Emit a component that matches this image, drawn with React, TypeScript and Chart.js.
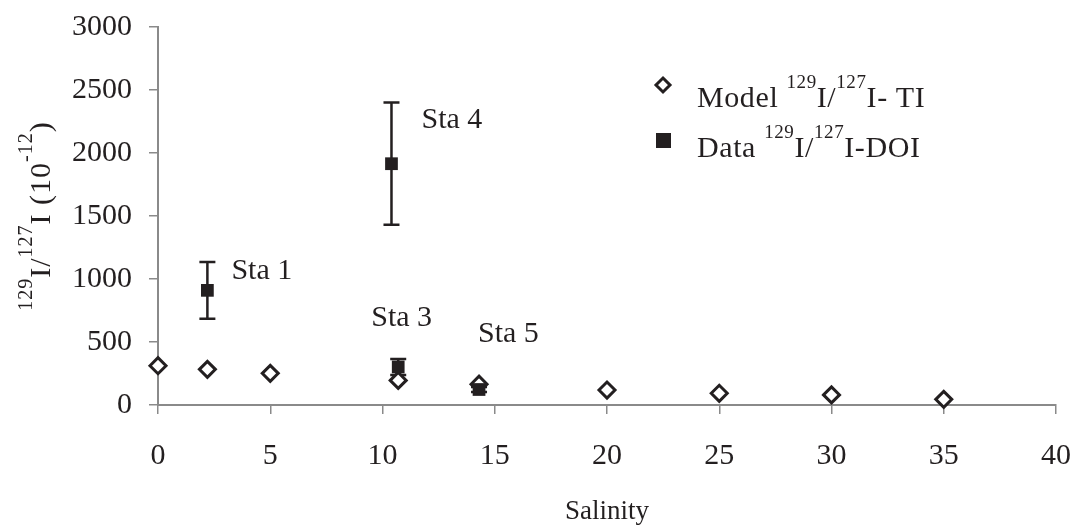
import React, { useEffect, useRef } from 'react';
import { Chart, registerables } from 'chart.js';

Chart.register(...registerables);

// ---- data ----
const modelSalinity = [0, 2.2, 5, 10.7, 14.3, 20, 25, 30, 35];
const modelRatio = [312, 283, 251, 195, 165, 119, 93, 80, 45];

const dataSalinity = [2.2, 10.4, 10.7, 14.3];
const dataRatio = [910, 1915, 302, 123];
const dataError = [225, 485, 63, 20];
const stationNames = ['Sta 1', 'Sta 4', 'Sta 3', 'Sta 5'];

const xTickValues = [0, 5, 10, 15, 20, 25, 30, 35, 40];
const yTickValues = [0, 500, 1000, 1500, 2000, 2500, 3000];

const xTitle = 'Salinity';
const yTitleParts = [
  { t: '129', sup: true },
  { t: 'I/' },
  { t: '127', sup: true },
  { t: 'I (10' },
  { t: '-12', sup: true },
  { t: ')' },
];
const legendModelParts = [
  { t: 'Model ' },
  { t: '129', sup: true },
  { t: 'I/' },
  { t: '127', sup: true },
  { t: 'I- TI' },
];
const legendDataParts = [
  { t: 'Data ' },
  { t: '129', sup: true },
  { t: 'I/' },
  { t: '127', sup: true },
  { t: 'I-DOI' },
];

// ---- styles ----
const FONT = '"Liberation Serif", "Times New Roman", serif';
const INK = '#231f20';
const AXIS = '#8a8a8a';
// pixel offsets of station labels from their data point
const labelOffsets = [
  [24, -11],
  [30, -36],
  [-27, -41],
  [-1, -48],
];

type Part = { t: string; sup?: boolean };

function richWidth(ctx: CanvasRenderingContext2D, parts: Part[], main: number, sup: number) {
  let w = 0;
  for (const p of parts) {
    ctx.font = `${p.sup ? sup : main}px ${FONT}`;
    w += ctx.measureText(p.t).width;
  }
  return w;
}

function drawRich(
  ctx: CanvasRenderingContext2D,
  parts: Part[],
  x: number,
  y: number,
  main: number,
  sup: number,
  raise: number
) {
  let cx = x;
  ctx.textBaseline = 'alphabetic';
  ctx.textAlign = 'left';
  for (const p of parts) {
    ctx.font = `${p.sup ? sup : main}px ${FONT}`;
    ctx.fillText(p.t, cx, p.sup ? y - raise : y);
    cx += ctx.measureText(p.t).width;
  }
}

const errorBarPlugin = {
  id: 'errorBars',
  beforeDatasetsDraw(chart: any) {
    const { ctx, scales } = chart;
    const xs = scales.x;
    const ys = scales.y;
    ctx.save();
    ctx.strokeStyle = INK;
    ctx.lineWidth = 2.5;
    for (let i = 0; i < dataSalinity.length; i++) {
      const px = xs.getPixelForValue(dataSalinity[i]);
      const top = ys.getPixelForValue(dataRatio[i] + dataError[i]);
      const bot = ys.getPixelForValue(dataRatio[i] - dataError[i]);
      ctx.beginPath();
      ctx.moveTo(px, top);
      ctx.lineTo(px, bot);
      ctx.moveTo(px - 8, top);
      ctx.lineTo(px + 8, top);
      ctx.moveTo(px - 8, bot);
      ctx.lineTo(px + 8, bot);
      ctx.stroke();
    }
    ctx.restore();
  },
};

const labelsPlugin = {
  id: 'stationLabels',
  afterDraw(chart: any) {
    const { ctx, scales } = chart;
    const xs = scales.x;
    const ys = scales.y;
    ctx.save();
    ctx.fillStyle = INK;
    ctx.font = `30px ${FONT}`;
    ctx.textAlign = 'left';
    ctx.textBaseline = 'alphabetic';
    for (let i = 0; i < stationNames.length; i++) {
      const px = xs.getPixelForValue(dataSalinity[i]);
      const py = ys.getPixelForValue(dataRatio[i]);
      ctx.fillText(stationNames[i], px + labelOffsets[i][0], py + labelOffsets[i][1]);
    }

    // y axis title (rotated, with superscripts)
    const area = chart.chartArea;
    const cy = (area.top + area.bottom) / 2;
    (ctx as any).letterSpacing = '1px';
    const w = richWidth(ctx, yTitleParts, 30, 20);
    ctx.save();
    ctx.translate(50, cy + w / 2);
    ctx.rotate(-Math.PI / 2);
    drawRich(ctx, yTitleParts, 0, 0, 30, 20, 18);
    ctx.restore();

    // legend
    (ctx as any).letterSpacing = '0.6px';
    ctx.strokeStyle = INK;
    ctx.lineWidth = 3;
    ctx.fillStyle = '#ffffff';
    const dx = 663, dy = 85, r = 7;
    ctx.beginPath();
    ctx.moveTo(dx, dy - r);
    ctx.lineTo(dx + r, dy);
    ctx.lineTo(dx, dy + r);
    ctx.lineTo(dx - r, dy);
    ctx.closePath();
    ctx.fill();
    ctx.stroke();
    ctx.fillStyle = INK;
    drawRich(ctx, legendModelParts, 697, 107, 30, 19, 19);
    ctx.fillRect(656, 133, 15, 15);
    drawRich(ctx, legendDataParts, 697, 157, 30, 19, 19);
    (ctx as any).letterSpacing = '0px';
    ctx.restore();
  },
};

function zeroPadding(s: any) {
  s.paddingLeft = 0;
  s.paddingRight = 0;
  s.paddingTop = 0;
  s.paddingBottom = 0;
}

export default function App() {
  const ref = useRef<HTMLCanvasElement | null>(null);

  useEffect(() => {
    if (!ref.current) return;
    const chart = new Chart(ref.current, {
      type: 'scatter',
      data: {
        datasets: [
          {
            label: 'Model 129I/127I-TI',
            data: modelSalinity.map((x, i) => ({ x, y: modelRatio[i] })),
            pointStyle: 'rectRot',
            pointRadius: 8,
            pointHoverRadius: 8,
            borderWidth: 3,
            borderColor: INK,
            backgroundColor: '#ffffff',
            order: 1,
            clip: false as any,
          },
          {
            label: 'Data 129I/127I-DOI',
            data: dataSalinity.map((x, i) => ({ x, y: dataRatio[i] })),
            pointStyle: 'rect',
            pointRadius: 9,
            pointHoverRadius: 9,
            borderWidth: 0,
            borderColor: INK,
            backgroundColor: INK,
            order: 0,
            clip: false as any,
          },
        ],
      },
      options: {
        animation: false,
        responsive: true,
        maintainAspectRatio: false,
        events: [],
        layout: { padding: { left: 0, top: 27, right: 18, bottom: 0 } },
        plugins: {
          legend: { display: false },
          tooltip: { enabled: false },
        },
        scales: {
          x: {
            type: 'linear',
            min: 0,
            max: 40,
            afterBuildTicks: (s: any) => {
              s.ticks = xTickValues.map((v) => ({ value: v }));
            },
            afterFit: (s: any) => {
              s.height = 120;
              zeroPadding(s);
            },
            ticks: {
              font: { family: FONT, size: 30 },
              color: INK,
              padding: 24,
              maxRotation: 0,
              autoSkip: false,
              callback: (v: any) => String(v),
            },
            grid: {
              drawOnChartArea: false,
              drawTicks: true,
              tickLength: 9,
              color: AXIS,
              lineWidth: 1.5,
            },
            border: { display: true, color: AXIS, width: 2 },
            title: {
              display: true,
              text: xTitle,
              font: { family: FONT, size: 27, lineHeight: 1 },
              color: INK,
              padding: 0,
            },
          },
          y: {
            type: 'linear',
            min: 0,
            max: 3000,
            afterBuildTicks: (s: any) => {
              s.ticks = yTickValues.map((v) => ({ value: v }));
            },
            afterFit: (s: any) => {
              s.width = 158;
              zeroPadding(s);
            },
            ticks: {
              font: { family: FONT, size: 30 },
              color: INK,
              padding: 17,
              autoSkip: false,
              callback: (v: any) => String(v),
            },
            grid: {
              drawOnChartArea: false,
              drawTicks: true,
              tickLength: 9,
              color: AXIS,
              lineWidth: 1.5,
            },
            border: { display: true, color: AXIS, width: 2 },
          },
        },
      },
      plugins: [errorBarPlugin, labelsPlugin],
    });
    return () => chart.destroy();
  }, []);

  return (
    <div style={{ position: 'fixed', left: 0, top: 0, width: 1074, height: 525, background: '#fff' }}>
      <canvas ref={ref} />
    </div>
  );
}
